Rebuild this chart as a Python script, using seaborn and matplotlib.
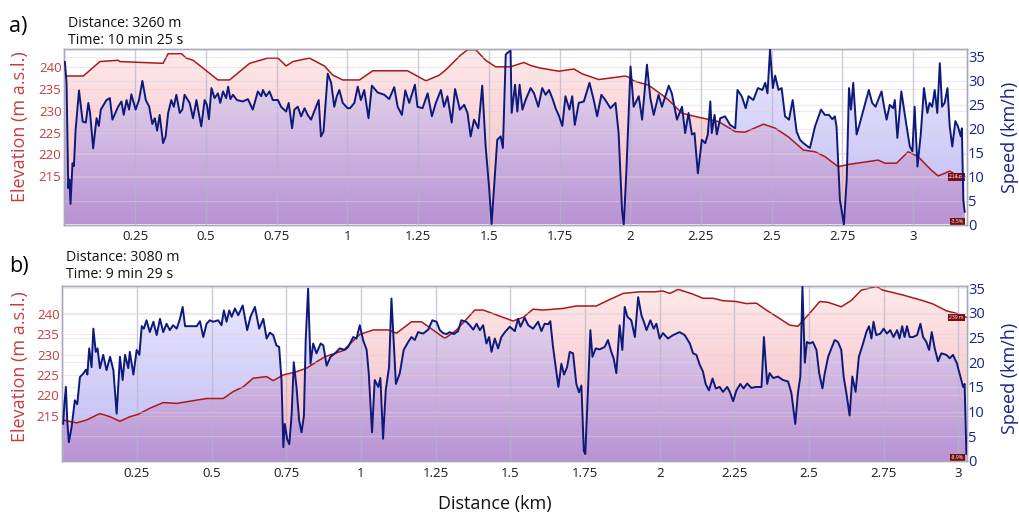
import numpy as np
import pandas as pd
import matplotlib
matplotlib.use("Agg")
import matplotlib.pyplot as plt
import seaborn as sns

# ---------------- data ----------------
# Panel a
a_elev_km = [0.000, 0.067, 0.126, 0.190, 0.196, 0.349, 0.367, 0.414, 0.431, 0.455, 0.543, 0.584, 0.655,
             0.719, 0.755, 0.784, 0.808, 0.866, 0.919, 0.949, 0.984, 1.043, 1.090, 1.213, 1.278, 1.325,
             1.348, 1.401, 1.425, 1.454, 1.489, 1.524, 1.577, 1.624, 1.648, 1.683, 1.748, 1.801, 1.830,
             1.889, 1.983, 1.995, 2.012, 2.065, 2.112, 2.136, 2.183, 2.241, 2.312, 2.371, 2.406, 2.471,
             2.512, 2.559, 2.612, 2.653, 2.688, 2.735, 2.770, 2.876, 2.900, 2.941, 2.982, 3.017, 3.064,
             3.088, 3.111, 3.129, 3.147, 3.182]
a_elev_m = [237.9, 237.9, 241.2, 241.5, 241.2, 240.8, 243.0, 243.0, 242.0, 241.5, 237.0, 237.0, 240.8,
            242.0, 242.0, 240.2, 241.2, 242.0, 240.2, 238.1, 237.0, 237.0, 239.1, 239.1, 236.8, 238.1,
            239.3, 242.7, 243.9, 243.9, 241.5, 240.0, 240.0, 241.0, 240.3, 239.7, 239.0, 239.5, 238.4,
            237.1, 237.9, 237.6, 236.8, 235.8, 233.6, 232.4, 229.4, 228.5, 227.5, 225.2, 225.1, 226.9,
            226.0, 224.0, 221.0, 220.6, 219.5, 217.2, 217.7, 218.7, 218.0, 218.0, 220.6, 219.5, 216.4,
            215.1, 215.7, 216.2, 215.5, 214.9]

a_speed_km = [0.002, 0.008, 0.014, 0.018, 0.022, 0.029, 0.034, 0.040, 0.052, 0.065, 0.076, 0.085, 0.091,
              0.102, 0.114, 0.122, 0.129, 0.149, 0.161, 0.170, 0.190, 0.202, 0.210, 0.220, 0.229, 0.237,
              0.252, 0.264, 0.276, 0.288, 0.300, 0.311, 0.320, 0.328, 0.337, 0.349, 0.358, 0.367, 0.378,
              0.387, 0.396, 0.408, 0.417, 0.425, 0.443, 0.455, 0.467, 0.475, 0.484, 0.496, 0.504, 0.511,
              0.520, 0.531, 0.543, 0.551, 0.561, 0.572, 0.579, 0.587, 0.596, 0.610, 0.631, 0.649, 0.666,
              0.684, 0.696, 0.702, 0.713, 0.725, 0.737, 0.755, 0.766, 0.784, 0.793, 0.805, 0.813, 0.825,
              0.837, 0.849, 0.860, 0.872, 0.890, 0.899, 0.907, 0.916, 0.931, 0.943, 0.954, 0.963, 0.972,
              0.984, 1.001, 1.010, 1.025, 1.037, 1.048, 1.060, 1.075, 1.087, 1.107, 1.131, 1.148, 1.166,
              1.178, 1.193, 1.205, 1.219, 1.239, 1.248, 1.266, 1.284, 1.299, 1.313, 1.331, 1.342, 1.354,
              1.369, 1.381, 1.398, 1.413, 1.425, 1.436, 1.448, 1.463, 1.477, 1.489, 1.501, 1.510, 1.519,
              1.530, 1.542, 1.550, 1.560, 1.569, 1.577, 1.581, 1.593, 1.601, 1.609, 1.619, 1.630, 1.648,
              1.660, 1.675, 1.689, 1.701, 1.713, 1.727, 1.736, 1.748, 1.760, 1.771, 1.785, 1.795, 1.804,
              1.818, 1.836, 1.856, 1.871, 1.883, 1.898, 1.912, 1.930, 1.948, 1.959, 1.971, 1.977, 1.986,
              2.001, 2.012, 2.030, 2.042, 2.059, 2.071, 2.083, 2.100, 2.112, 2.136, 2.147, 2.165, 2.183,
              2.194, 2.206, 2.218, 2.227, 2.239, 2.253, 2.265, 2.274, 2.283, 2.288, 2.298, 2.306, 2.318,
              2.335, 2.353, 2.371, 2.379, 2.394, 2.408, 2.418, 2.435, 2.451, 2.467, 2.477, 2.485, 2.494,
              2.504, 2.512, 2.524, 2.535, 2.547, 2.561, 2.574, 2.588, 2.600, 2.612, 2.627, 2.635, 2.653,
              2.674, 2.688, 2.702, 2.714, 2.723, 2.729, 2.741, 2.755, 2.765, 2.773, 2.780, 2.788, 2.800,
              2.812, 2.829, 2.843, 2.855, 2.867, 2.876, 2.888, 2.897, 2.906, 2.917, 2.929, 2.935, 2.944,
              2.958, 2.973, 2.988, 2.997, 3.005, 3.015, 3.027, 3.038, 3.050, 3.058, 3.067, 3.076, 3.085,
              3.094, 3.102, 3.111, 3.121, 3.129, 3.138, 3.149, 3.158, 3.168, 3.172, 3.177, 3.182]
a_speed_kmh = [34.0, 29.6, 7.6, 9.4, 4.3, 12.8, 12.2, 19.8, 28.0, 21.5, 21.3, 25.4, 23.3,
               15.9, 22.2, 20.6, 24.0, 26.0, 26.4, 21.9, 24.6, 25.7, 22.9, 26.0, 24.0, 27.2,
               24.0, 26.0, 30.0, 26.0, 24.6, 21.0, 22.2, 19.6, 22.9, 17.0, 18.4, 23.3, 26.0,
               24.6, 27.1, 23.3, 24.0, 27.1, 25.4, 22.2, 26.0, 23.3, 20.5, 26.0, 25.0, 22.0,
               28.5, 26.4, 27.4, 25.4, 27.8, 26.4, 28.8, 26.2, 27.1, 26.0, 25.7, 26.2, 24.0,
               27.8, 26.8, 28.1, 26.8, 27.8, 26.0, 26.0, 24.6, 23.6, 25.4, 20.1, 24.0, 24.6,
               22.6, 24.3, 22.9, 21.9, 24.6, 26.0, 18.4, 19.4, 31.5, 29.6, 24.6, 26.8, 28.1,
               25.4, 24.3, 24.3, 25.4, 28.8, 26.0, 28.1, 22.2, 29.0, 27.6, 27.1, 26.2, 28.7,
               24.6, 22.9, 28.0, 25.4, 29.2, 24.6, 24.3, 27.4, 22.6, 25.4, 28.1, 24.6, 26.8,
               21.3, 28.3, 24.0, 25.0, 23.3, 18.4, 21.9, 20.1, 29.0, 16.3, 7.9, 0.1, 7.9,
               17.7, 18.4, 16.0, 35.5, 36.0, 36.3, 23.3, 29.2, 23.6, 29.2, 24.0, 26.0, 28.5,
               27.4, 24.6, 28.5, 27.1, 28.1, 26.0, 24.3, 22.7, 20.6, 26.8, 24.0, 26.8, 20.8,
               25.4, 25.7, 29.6, 26.0, 22.6, 27.1, 26.0, 24.3, 25.4, 19.0, 3.0, 0.0, 10.7,
               33.0, 24.6, 26.8, 21.9, 33.4, 26.4, 22.9, 27.1, 24.6, 29.0, 27.4, 21.9, 24.6,
               19.1, 23.3, 18.8, 19.1, 10.7, 17.7, 17.0, 18.8, 25.7, 19.1, 22.9, 18.8, 22.2,
               22.6, 20.8, 20.1, 28.1, 26.8, 24.3, 26.8, 26.0, 28.5, 28.1, 29.6, 27.4, 36.5,
               28.5, 31.1, 28.1, 28.5, 22.6, 21.9, 26.0, 19.4, 17.7, 17.0, 16.3, 16.0, 20.5,
               24.0, 22.9, 22.9, 22.0, 22.6, 20.5, 5.1, 0.0, 9.4, 28.5, 24.0, 29.6, 18.8,
               21.3, 25.0, 28.1, 25.4, 24.6, 26.0, 27.8, 24.6, 21.9, 25.0, 24.3, 26.0, 18.1,
               27.8, 21.9, 16.3, 15.3, 24.6, 12.1, 19.1, 28.5, 23.3, 25.4, 24.6, 28.1, 23.3,
               33.7, 24.6, 25.4, 28.5, 20.5, 16.3, 21.6, 20.5, 18.4, 20.1, 5.1, 2.6]

# Panel b
b_elev_km = [0.003, 0.048, 0.081, 0.126, 0.160, 0.193, 0.226, 0.254, 0.293, 0.338, 0.383, 0.416, 0.483,
             0.539, 0.572, 0.606, 0.639, 0.684, 0.706, 0.740, 0.784, 0.818, 0.879, 0.940, 0.996, 1.041,
             1.091, 1.119, 1.169, 1.203, 1.281, 1.320, 1.381, 1.409, 1.465, 1.509, 1.543, 1.576, 1.610,
             1.677, 1.721, 1.788, 1.827, 1.878, 1.933, 1.984, 2.011, 2.034, 2.062, 2.112, 2.145, 2.179,
             2.212, 2.257, 2.290, 2.324, 2.357, 2.402, 2.435, 2.463, 2.502, 2.536, 2.564, 2.608, 2.642,
             2.675, 2.725, 2.748, 2.815, 2.882, 2.915, 2.960, 2.993, 3.027]
b_elev_m = [213.9, 213.2, 213.9, 215.5, 214.7, 213.6, 214.7, 215.3, 216.8, 218.2, 218.0, 218.4, 219.2,
            219.2, 220.9, 222.1, 224.2, 224.6, 223.6, 225.0, 225.8, 226.7, 229.5, 231.0, 235.0, 236.1,
            236.1, 235.3, 238.1, 238.1, 234.0, 236.1, 241.0, 241.0, 239.5, 238.3, 239.2, 241.2, 241.0,
            241.4, 242.0, 242.0, 243.4, 245.1, 245.5, 245.5, 245.7, 245.1, 246.1, 244.9, 243.9, 243.9,
            243.3, 243.1, 242.6, 242.7, 241.0, 238.9, 237.3, 237.0, 240.2, 243.1, 242.9, 241.8, 243.4,
            245.9, 246.8, 245.9, 244.7, 243.3, 242.5, 240.8, 240.2, 239.2]

b_speed_km = [0.003, 0.007, 0.012, 0.017, 0.022, 0.031, 0.042, 0.050, 0.059, 0.070, 0.079, 0.084, 0.090,
              0.098, 0.104, 0.112, 0.118, 0.126, 0.137, 0.148, 0.160, 0.171, 0.182, 0.193, 0.202, 0.210,
              0.221, 0.226, 0.238, 0.249, 0.258, 0.266, 0.273, 0.282, 0.293, 0.305, 0.316, 0.327, 0.338,
              0.349, 0.360, 0.371, 0.383, 0.394, 0.403, 0.411, 0.427, 0.450, 0.461, 0.472, 0.483, 0.494,
              0.505, 0.522, 0.533, 0.541, 0.550, 0.559, 0.567, 0.578, 0.589, 0.604, 0.619, 0.630, 0.645,
              0.659, 0.673, 0.684, 0.695, 0.706, 0.717, 0.726, 0.734, 0.740, 0.745, 0.753, 0.760, 0.768,
              0.775, 0.784, 0.793, 0.801, 0.809, 0.815, 0.823, 0.831, 0.840, 0.851, 0.865, 0.874, 0.885,
              0.898, 0.913, 0.929, 0.946, 0.957, 0.974, 0.985, 0.996, 1.007, 1.019, 1.026, 1.037, 1.046,
              1.058, 1.065, 1.074, 1.083, 1.094, 1.102, 1.108, 1.117, 1.130, 1.143, 1.158, 1.169, 1.180,
              1.191, 1.208, 1.225, 1.239, 1.253, 1.264, 1.275, 1.286, 1.297, 1.311, 1.325, 1.336, 1.353,
              1.364, 1.376, 1.387, 1.398, 1.409, 1.420, 1.429, 1.437, 1.448, 1.459, 1.470, 1.482, 1.498,
              1.515, 1.526, 1.534, 1.548, 1.560, 1.576, 1.593, 1.604, 1.615, 1.627, 1.634, 1.643, 1.652,
              1.661, 1.671, 1.680, 1.690, 1.699, 1.710, 1.721, 1.730, 1.738, 1.746, 1.751, 1.760, 1.768,
              1.775, 1.786, 1.799, 1.816, 1.827, 1.838, 1.846, 1.855, 1.866, 1.875, 1.883, 1.892, 1.905,
              1.917, 1.928, 1.939, 1.947, 1.956, 1.969, 1.980, 1.989, 2.000, 2.011, 2.028, 2.045, 2.067,
              2.084, 2.101, 2.112, 2.123, 2.134, 2.145, 2.154, 2.165, 2.177, 2.188, 2.201, 2.212, 2.226,
              2.235, 2.246, 2.257, 2.270, 2.281, 2.293, 2.307, 2.322, 2.341, 2.349, 2.360, 2.368, 2.380,
              2.396, 2.413, 2.430, 2.441, 2.454, 2.463, 2.471, 2.478, 2.486, 2.493, 2.502, 2.513, 2.525,
              2.534, 2.545, 2.552, 2.564, 2.575, 2.586, 2.597, 2.608, 2.616, 2.625, 2.636, 2.645, 2.656,
              2.667, 2.681, 2.692, 2.701, 2.709, 2.716, 2.725, 2.739, 2.750, 2.761, 2.772, 2.783, 2.795,
              2.803, 2.812, 2.820, 2.828, 2.837, 2.848, 2.862, 2.873, 2.882, 2.893, 2.902, 2.911, 2.921,
              2.932, 2.943, 2.960, 2.971, 2.982, 2.995, 3.007, 3.016, 3.021, 3.027]
b_speed_kmh = [7.5, 11.6, 15.0, 7.7, 3.8, 6.8, 12.3, 11.5, 17.0, 17.7, 18.5, 17.5, 22.8,
               19.0, 26.8, 22.1, 22.8, 18.8, 21.5, 18.4, 21.1, 18.4, 9.6, 21.1, 16.4, 21.5,
               18.8, 22.1, 17.5, 22.5, 21.5, 27.3, 26.8, 28.5, 26.1, 28.2, 25.5, 28.8, 26.1,
               27.8, 26.5, 27.5, 26.8, 28.8, 31.2, 27.3, 27.3, 27.3, 28.3, 25.1, 27.8, 28.5,
               28.2, 28.5, 27.5, 30.5, 28.2, 30.5, 29.2, 30.9, 29.5, 31.5, 26.5, 29.2, 31.2,
               26.8, 28.8, 24.8, 26.0, 25.5, 23.4, 23.1, 16.3, 2.8, 7.5, 4.4, 3.4, 9.6,
               20.0, 15.0, 8.2, 5.8, 9.2, 24.6, 34.9, 19.7, 23.8, 21.8, 23.8, 23.4, 19.3,
               21.1, 21.8, 22.8, 22.5, 23.1, 25.1, 24.8, 27.5, 24.5, 22.5, 17.8, 5.8, 16.4,
               15.0, 16.8, 4.5, 14.4, 19.0, 32.9, 26.1, 15.6, 17.8, 22.5, 24.1, 25.1, 24.5,
               26.1, 25.8, 26.6, 28.5, 28.2, 26.5, 25.9, 25.7, 26.1, 25.7, 26.3, 28.5, 28.2,
               27.5, 26.6, 27.8, 26.5, 27.5, 23.8, 25.1, 22.1, 24.8, 22.8, 25.1, 26.1, 27.2,
               26.3, 28.8, 27.2, 29.0, 27.5, 26.8, 28.2, 26.3, 27.8, 27.7, 28.3, 23.1, 19.0,
               15.0, 19.7, 17.5, 19.0, 22.1, 21.8, 15.6, 13.9, 15.3, 2.1, 1.4, 14.4, 26.5,
               21.1, 22.8, 22.6, 23.1, 24.5, 22.1, 20.8, 17.8, 27.5, 22.5, 31.2, 29.2, 28.5,
               25.1, 33.2, 29.5, 28.2, 26.5, 28.5, 26.8, 27.8, 24.8, 25.9, 24.8, 25.5, 26.1,
               25.5, 23.8, 21.8, 21.5, 19.5, 18.1, 15.6, 14.3, 16.7, 14.7, 15.0, 14.0, 15.0,
               14.0, 12.1, 14.3, 15.6, 14.7, 15.7, 14.8, 15.0, 15.0, 25.1, 15.6, 17.8, 16.8,
               17.1, 16.4, 16.1, 13.8, 7.5, 13.8, 17.1, 35.3, 19.9, 24.1, 23.8, 24.1, 22.5,
               17.8, 14.7, 17.5, 21.1, 22.8, 24.5, 24.1, 22.5, 17.1, 13.8, 9.2, 17.1, 14.0,
               21.1, 23.8, 26.1, 27.3, 24.8, 28.2, 25.5, 25.8, 26.8, 25.8, 26.5, 25.1, 26.5,
               24.8, 27.3, 25.1, 27.3, 25.1, 25.1, 25.5, 27.8, 25.1, 24.1, 22.5, 26.1, 22.8,
               20.2, 21.8, 21.5, 20.8, 21.5, 19.8, 17.1, 15.0, 15.6, 1.4]

x_ticks = [0.25, 0.5, 0.75, 1, 1.25, 1.5, 1.75, 2, 2.25, 2.5, 2.75, 3]
x_tick_labels = ["0.25", "0.5", "0.75", "1", "1.25", "1.5", "1.75", "2", "2.25", "2.5", "2.75", "3"]
elev_ticks = [215, 220, 225, 230, 235, 240]
speed_ticks = [0, 5, 10, 15, 20, 25, 30, 35]

panel_letters = ["a)", "b)"]
panel_dist = ["Distance: 3260 m", "Distance: 3080 m"]
panel_time = ["Time: 10 min 25 s", "Time: 9 min 29 s"]
end_elev_labels = ["214 m", "239 m"]
end_grade_labels = ["-3.5%", "-8.9%"]

# ---------------- style ----------------
sns.set_style("white")
plt.rcParams["font.family"] = ["Open Sans", "DejaVu Sans"]

W, H = 1019, 515
fig = plt.figure(figsize=(W / 100, H / 100), dpi=100)

RED_TXT = "#c43d3d"
RED_LINE = "#a81a1a"
NAVY = "#0d1a7a"
NAVY_TXT = "#18228a"


def gradient(top, bottom, alpha=1.0, n=256):
    t = np.linspace(0, 1, n)[:, None]
    top = np.array(top, float)
    bottom = np.array(bottom, float)
    c = (bottom + (top - bottom) * t) / 255.0
    c = np.clip(c, 0, 1)
    a = np.full((n, 1), alpha)
    return np.concatenate([c, a], axis=1)[:, None, :]


pink_grad = gradient((254, 234, 234), (245, 182, 190))
blue_grad = gradient((215, 215, 251), (125, 112, 235), alpha=0.5)

# axes boxes in pixel coordinates: left, top, right, bottom
boxes = [(64.3, 49.3, 966.7, 224.5), (62.3, 285.7, 966.7, 461.0)]
xlims = [(0, 3.189), (0, 3.028)]
elev_lims = [(204.0, 244.0), (203.8, 247.0)]
speed_lims = [(0, 36.6), (0, 35.5)]

datasets = [
    (a_elev_km, a_elev_m, a_speed_km, a_speed_kmh),
    (b_elev_km, b_elev_m, b_speed_km, b_speed_kmh),
]

for i, (ek, em, sk, sv) in enumerate(datasets):
    l, t, r, b = boxes[i]
    ax = fig.add_axes([l / W, 1 - b / H, (r - l) / W, (b - t) / H])
    ax2 = ax.twinx()
    x0, x1 = xlims[i]
    e0, e1 = elev_lims[i]
    s0, s1 = speed_lims[i]
    ax.set_xlim(x0, x1)
    ax.set_ylim(e0, e1)
    ax2.set_ylim(s0, s1)

    df_e = pd.DataFrame({"dist": ek, "elev": em})
    df_s = pd.DataFrame({"dist": sk, "speed": sv})

    # area shapes (invisible), used as clip paths for gradient fills
    pe = ax.fill_between(df_e["dist"], df_e["elev"], e0, facecolor="none", edgecolor="none")
    ps = ax2.fill_between(df_s["dist"], df_s["speed"], s0, facecolor="none", edgecolor="none")

    im1 = ax.imshow(pink_grad, extent=(x0, x1, e0, e1), origin="lower", aspect="auto",
                    interpolation="bilinear", zorder=1)
    im1.set_clip_path(pe.get_paths()[0], transform=ax.transData)
    im2 = ax.imshow(blue_grad, extent=(x0, x1, e0, e1), origin="lower", aspect="auto",
                    interpolation="bilinear", zorder=1.1)
    im2.set_clip_path(ps.get_paths()[0], transform=ax2.transData)
    ax.set_xlim(x0, x1)
    ax.set_ylim(e0, e1)

    sns.lineplot(data=df_e, x="dist", y="elev", ax=ax, color=RED_LINE, lw=1.1, sort=False,
                 zorder=4)
    sns.lineplot(data=df_s, x="dist", y="speed", ax=ax2, color=NAVY, lw=1.4, sort=False,
                 zorder=4)
    ax.set_xlim(x0, x1)
    ax.set_ylim(e0, e1)
    ax2.set_ylim(s0, s1)

    # grid
    ax.set_axisbelow(False)
    ax.set_xticks(x_ticks)
    ax.set_xticklabels(x_tick_labels)
    ax.set_yticks(elev_ticks)
    ax2.set_yticks(speed_ticks)
    ax.grid(axis="x", color="#b4b4c8", lw=1.0, alpha=0.7, zorder=3)
    ax.grid(axis="y", color="#f0c8c8", lw=0.8, alpha=0.45, zorder=3)
    ax2.grid(axis="y", color="#d4d4f0", lw=0.8, alpha=0.45)
    ax2.grid(axis="x", visible=False)

    ax.set_xlabel("")
    ax.set_ylabel("")
    ax2.set_xlabel("")
    ax2.set_ylabel("")

    ax.tick_params(axis="x", length=0, pad=4, labelsize=9.5, labelcolor="#1a1a1a")
    ax.tick_params(axis="y", length=0, pad=2, labelsize=9.5, labelcolor=RED_TXT)
    ax2.tick_params(axis="y", length=0, pad=1, labelsize=10.5, labelcolor=NAVY_TXT)
    for axx in (ax, ax2):
        for sp in axx.spines.values():
            sp.set_color("#a9a9b8")
            sp.set_linewidth(1.0)
            sp.set_visible(True)

    # end-of-track small labels
    ax.text(0.997, (em[-1] - e0) / (e1 - e0), end_elev_labels[i], transform=ax.transAxes,
            ha="right", va="center", fontsize=3.6, color="white", zorder=6,
            bbox=dict(boxstyle="square,pad=0.25", fc="#7a0f0f", ec="none"))
    ax.text(0.997, 0.018, end_grade_labels[i], transform=ax.transAxes,
            ha="right", va="center", fontsize=3.6, color="white", zorder=6,
            bbox=dict(boxstyle="square,pad=0.25", fc="#7a0f0f", ec="none"))

# panel texts
letter_y = [32, 272]
dist_y = [27, 261]
time_y = [44, 278]
dist_x = [68, 66]
for i in range(2):
    fig.text(9 / W, 1 - letter_y[i] / H, panel_letters[i], fontsize=15.5, color="black",
             va="baseline", ha="left")
    fig.text(dist_x[i] / W, 1 - dist_y[i] / H, panel_dist[i], fontsize=10.2, color="#111111",
             va="baseline", ha="left")
    fig.text(dist_x[i] / W, 1 - time_y[i] / H, panel_time[i], fontsize=10.2, color="#111111",
             va="baseline", ha="left")

# axis titles
for yc in (127, 367):
    fig.text(20.5 / W, 1 - yc / H, "Elevation (m a.s.l.)", rotation=90, ha="center",
             va="center", fontsize=13, color=RED_TXT)
for yc in (137, 378):
    fig.text(1010 / W, 1 - yc / H, "Speed (km/h)", rotation=90, ha="center", va="center",
             fontsize=13, color=NAVY_TXT)
fig.text(495 / W, 1 - 504 / H, "Distance (km)", ha="center", va="center", fontsize=13,
         color="#111111")

fig.savefig("out.png", dpi=100)
